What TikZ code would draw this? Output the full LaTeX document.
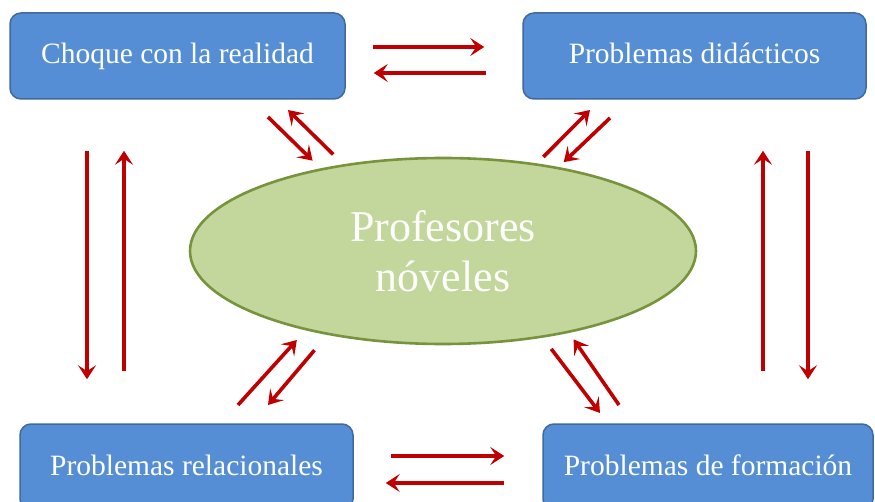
\documentclass[tikz,border=0pt]{standalone}
\usepackage{fontspec}
\setmainfont{Liberation Serif}
\usetikzlibrary{arrows.meta,shapes.geometric}
\definecolor{azulcaja}{HTML}{558ED5}
\definecolor{bordecaja}{HTML}{41699E}
\definecolor{verdeelipse}{HTML}{C3D69B}
\definecolor{bordeelipse}{HTML}{77933C}
\definecolor{rojoflecha}{HTML}{C00000}
\tikzset{
  caja/.style={draw=bordecaja, line width=1.5pt, fill=azulcaja, rounded corners=11pt,
    text=white, minimum height=86pt, inner sep=0pt, text height=21pt, text depth=5pt,
    font=\fontsize{29.5}{33}\selectfont},
  flecha/.style={draw=rojoflecha, line width=3.6pt, -{Stealth[length=14pt,width=18pt,inset=6pt]}},
}

\begin{document}
\begin{tikzpicture}[x=1pt,y=-1pt]
		\clip (0,0) rectangle (875,502);
		% Bloques
		\node[caja, minimum width=335pt] (A) at (177.5,56) {Choque con la realidad};
		\node[caja, minimum width=343pt] (B) at (694.5,56) {Problemas didácticos};
		\node[caja, minimum width=333pt] (C) at (186.5,467) {Problemas relacionales};
		\node[caja, minimum width=330pt] (D) at (708,467) {Problemas de formación};
		\node[ellipse, draw=bordeelipse, line width=2.6pt, fill=verdeelipse, text=white!96!verdeelipse,
			minimum width=506pt, minimum height=186pt, align=center,
			font=\fontsize{44}{50}\selectfont] (E) at (443,251) {Profesores\\nóveles};

		% Flechas horizontales
		\draw[flecha, shorten <=27pt, shorten >=38pt] ([yshift=9pt]A.east) -- ([yshift=9pt]B.west);
		\draw[flecha, shorten <=36pt, shorten >=28pt] ([yshift=-17pt]B.west) -- ([yshift=-17pt]A.east);
		\draw[flecha, shorten <=37pt, shorten >=38pt] ([yshift=11pt]C.east) -- ([yshift=11pt]D.west);
		\draw[flecha, shorten <=38pt, shorten >=32pt] ([yshift=-16pt]D.west) -- ([yshift=-16pt]C.east);

		% Flechas verticales
		\draw[flecha, shorten <=51pt, shorten >=44pt] ([xshift=-90.5pt]A.south) -- ([xshift=-90.5pt]A.south |- C.north);
		\draw[flecha, shorten <=52pt, shorten >=51pt] ([xshift=-53.5pt]A.south |- C.north) -- ([xshift=-53.5pt]A.south);
		\draw[flecha, shorten <=52pt, shorten >=51pt] ([xshift=68.5pt]B.south |- D.north) -- ([xshift=68.5pt]B.south);
		\draw[flecha, shorten <=51pt, shorten >=44pt] ([xshift=113.5pt]B.south) -- ([xshift=113.5pt]B.south |- D.north);

		% Flechas diagonales
		\coordinate (a1) at (268,117);
		\coordinate (a2) at (288,110);
		\draw[flecha, shorten >=11pt] (a1) -- (E.146);
		\draw[flecha, shorten <=14pt] (E.139) -- (a2);
		\coordinate (b1) at (590,110);
		\coordinate (b2) at (610,118);
		\draw[flecha, shorten <=9pt] (E.43) -- (b1);
		\draw[flecha, shorten >=7pt] (b2) -- (E.36);
		\coordinate (c1) at (238,405);
		\coordinate (c2) at (268,405);
		\draw[flecha, shorten >=13pt] (c1) -- (E.210);
		\draw[flecha, shorten <=20pt] (E.216) -- (c2);
		\coordinate (d1) at (600,413);
		\coordinate (d2) at (619,405);
		\draw[flecha, shorten <=14pt] (E.319) -- (d1);
		\draw[flecha, shorten >=8pt] (d2) -- (E.327);

	\end{tikzpicture}
\end{document}
